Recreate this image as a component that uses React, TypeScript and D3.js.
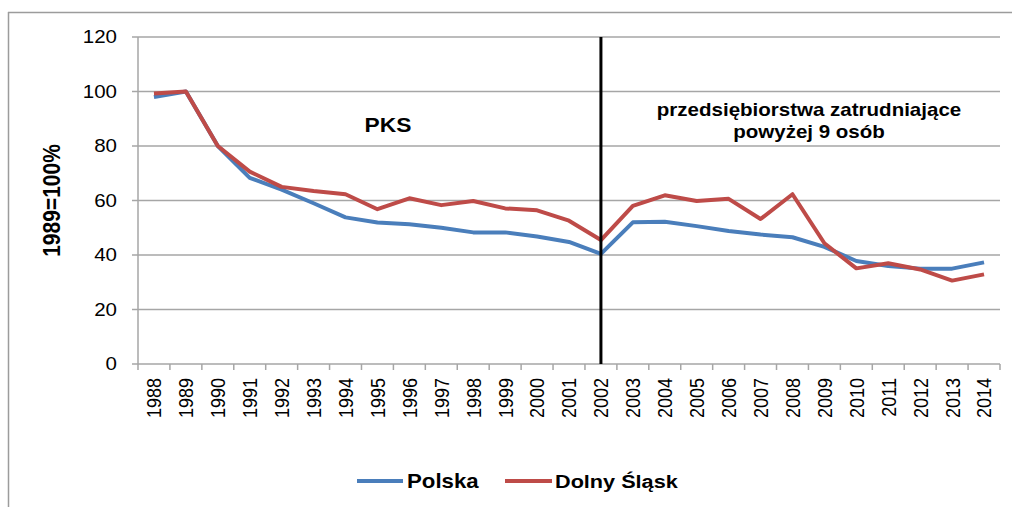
import React from 'react'
import * as d3 from 'd3'

const years = [
  '1988', '1989', '1990', '1991', '1992', '1993', '1994', '1995', '1996',
  '1997', '1998', '1999', '2000', '2001', '2002', '2003', '2004', '2005',
  '2006', '2007', '2008', '2009', '2010', '2011', '2012', '2013', '2014',
]

const polska = [
  98, 100, 80, 68.3, 64, 59, 53.8, 51.9, 51.3, 50, 48.3, 48.3, 46.8, 44.8,
  40.4, 52, 52.2, 50.6, 48.8, 47.5, 46.5, 43, 37.8, 36, 35, 35, 37.3,
]

const dolnySlask = [
  99.3, 100, 80, 70.6, 65, 63.5, 62.3, 56.8, 60.8, 58.3, 59.8, 57.1, 56.4,
  52.6, 45.5, 58, 61.9, 59.8, 60.6, 53.2, 62.3, 44.3, 35.1, 37, 34.7, 30.6,
  32.9,
]

const yTicks = [0, 20, 40, 60, 80, 100, 120]

const series = [
  { name: 'Polska', values: polska, color: '#4a7ebb' },
  { name: 'Dolny Śląsk', values: dolnySlask, color: '#be4b48' },
]

const W = 1012
const H = 507
const font = 'Arial, "Liberation Sans", sans-serif'
const grid = '#a6a6a6'
// the original picture is a bit stretched horizontally
const sx = 1.14

export default function App() {
  const x = d3.scaleBand().domain(years).range([138, 1000]).padding(0)
  const y = d3.scaleLinear().domain([0, 120]).range([364, 37])
  const cx = (d: string) => (x(d) as number) + x.bandwidth() / 2

  const line = d3
    .line<number>()
    .x((_, i) => cx(years[i]))
    .y((v) => y(v))

  const splitX = cx('2002')
  const at = (px: number, py: number) => `translate(${px},${py}) scale(${sx},1)`

  return (
    <svg
      width={W}
      height={H}
      style={{ position: 'absolute', left: 0, top: 0, background: '#fff' }}
    >
      {/* outer frame (top + left only visible) */}
      <line x1={8} x2={W} y1={12.5} y2={12.5} stroke="#9c9c9c" strokeWidth={1.5} />
      <line x1={8.5} x2={8.5} y1={12} y2={H} stroke="#9c9c9c" strokeWidth={1.5} />

      {/* gridlines + y ticks */}
      {yTicks.map((t) => (
        <g key={t}>
          <line x1={132} x2={1000} y1={y(t)} y2={y(t)} stroke={grid} strokeWidth={1.5} />
          <text
            transform={at(117, y(t))}
            dy="0.36em"
            textAnchor="end"
            fontFamily={font}
            fontSize={18}
            fill="#000"
          >
            {t}
          </text>
        </g>
      ))}

      {/* y axis line */}
      <line x1={138} x2={138} y1={y(120)} y2={y(0)} stroke={grid} strokeWidth={1.5} />

      {/* x ticks at band edges */}
      {years.map((yr) => (
        <line
          key={'t' + yr}
          x1={x(yr) as number}
          x2={x(yr) as number}
          y1={y(0)}
          y2={y(0) + 6}
          stroke={grid}
          strokeWidth={1.5}
        />
      ))}
      <line x1={1000} x2={1000} y1={y(0)} y2={y(0) + 6} stroke={grid} strokeWidth={1.5} />

      {/* x labels */}
      {years.map((yr) => (
        <text
          key={'l' + yr}
          transform={`${at(cx(yr), 378)} rotate(-90)`}
          dy="0.36em"
          textAnchor="end"
          fontFamily={font}
          fontSize={18}
          fill="#000"
        >
          {yr}
        </text>
      ))}

      {/* y axis title */}
      <text
        transform={`${at(51, (y(0) + y(120)) / 2)} rotate(-90)`}
        dy="0.36em"
        textAnchor="middle"
        fontFamily={font}
        fontSize={21}
        fontWeight="bold"
      >
        1989=100%
      </text>

      {/* series */}
      {series.map((s) => (
        <path
          key={s.name}
          d={line(s.values) || ''}
          fill="none"
          stroke={s.color}
          strokeWidth={4}
          strokeLinejoin="round"
        />
      ))}

      {/* divider */}
      <line x1={splitX} x2={splitX} y1={y(120)} y2={y(0)} stroke="#000" strokeWidth={3} />

      {/* annotations */}
      <text transform={at(388, 132)} textAnchor="middle" fontFamily={font} fontSize={20} fontWeight="bold">
        PKS
      </text>
      <text transform={at(809, 116)} textAnchor="middle" fontFamily={font} fontSize={18} fontWeight="bold">
        przedsiębiorstwa zatrudniające
      </text>
      <text transform={at(809, 138)} textAnchor="middle" fontFamily={font} fontSize={18} fontWeight="bold">
        powyżej 9 osób
      </text>

      {/* legend */}
      <line x1={357} x2={403} y1={481} y2={481} stroke={series[0].color} strokeWidth={4} />
      <text transform={at(407, 488)} fontFamily={font} fontSize={19.5} fontWeight="bold">
        {series[0].name}
      </text>
      <line x1={505} x2={552} y1={481} y2={481} stroke={series[1].color} strokeWidth={4} />
      <text transform={at(555, 488)} fontFamily={font} fontSize={19} fontWeight="bold">
        {series[1].name}
      </text>
    </svg>
  )
}
